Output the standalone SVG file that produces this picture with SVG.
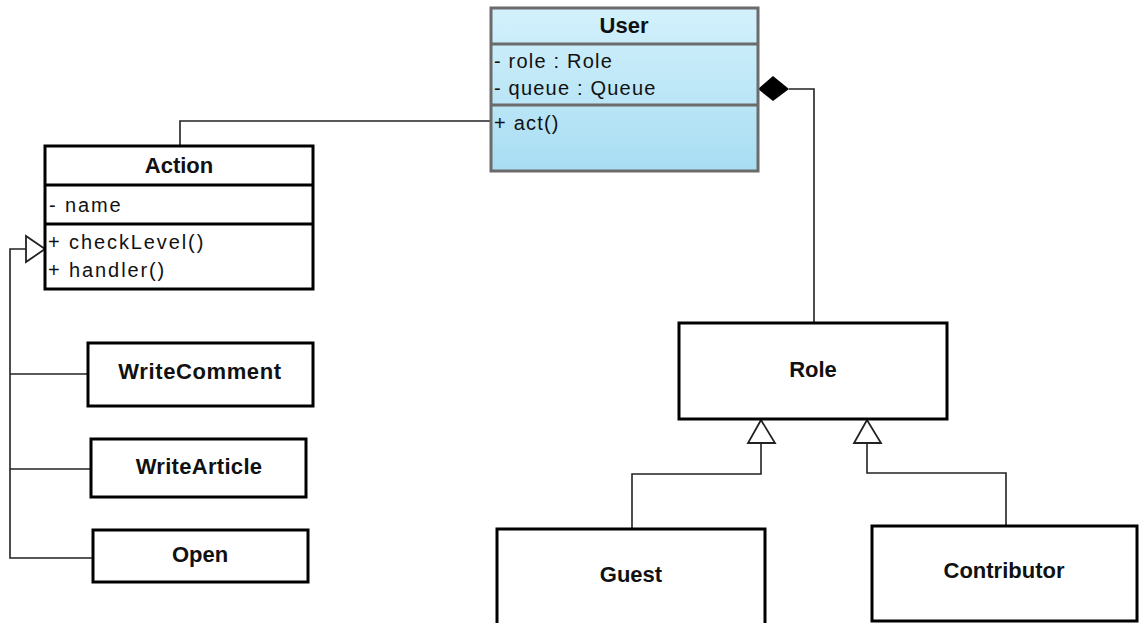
<svg xmlns="http://www.w3.org/2000/svg" width="1139" height="623" viewBox="0 0 1139 623">
  <defs>
    <linearGradient id="userFill" x1="0" y1="0" x2="0" y2="1">
      <stop offset="0" stop-color="#d3f1fc"/>
      <stop offset="1" stop-color="#a8ddf2"/>
    </linearGradient>
    <style>
      .box { fill: #ffffff; stroke: #000000; stroke-width: 3; }
      .ubox { fill: url(#userFill); stroke: #6b6b6b; stroke-width: 3; }
      .usep { stroke: #6b6b6b; stroke-width: 3; }
      .sep { stroke: #000000; stroke-width: 3; }
      .title { font-family: "Liberation Sans", Arial, sans-serif; font-weight: bold; font-size: 22px; fill: #111; text-anchor: middle; }
      .member { font-family: "Liberation Sans", Arial, sans-serif; font-size: 20px; fill: #111; letter-spacing: 1.2px; }
      .amember { font-family: "Liberation Sans", Arial, sans-serif; font-size: 20px; fill: #111; letter-spacing: 1.9px; }
      .wire { fill: none; stroke: #222; stroke-width: 1.6; }
      .hollow { fill: #ffffff; stroke: #222; stroke-width: 1.8; stroke-linejoin: miter; }
    </style>
  </defs>

  <rect width="1139" height="623" fill="#ffffff"/>

  <!-- connectors -->
  <g id="connectors">
    <!-- User to Action association -->
    <polyline class="wire" points="491,121 180,121 180,146"/>
    <!-- User composition to Role -->
    <polyline class="wire" points="789,89 814,89 814,323"/>
    <polygon points="758,89 773,76 789,89 773,101" fill="#000"/>
    <!-- Action generalization tree -->
    <polyline class="wire" points="26,249 10,249 10,558 93,558"/>
    <line class="wire" x1="10" y1="374" x2="88" y2="374"/>
    <line class="wire" x1="10" y1="469" x2="91" y2="469"/>
    <polygon class="hollow" points="45,249 26,236 26,262"/>
    <!-- Role generalizations -->
    <polyline class="wire" points="761,443 761,474 632,474 632,529"/>
    <polygon class="hollow" points="761,420 748,443 775,443"/>
    <polyline class="wire" points="867,443 867,473 1006,473 1006,526"/>
    <polygon class="hollow" points="867,420 854,443 881,443"/>
  </g>

  <g id="user">
    <rect class="ubox" x="491" y="8" width="267" height="163"/>
    <line class="usep" x1="491" y1="44" x2="758" y2="44"/>
    <line class="usep" x1="491" y1="105" x2="758" y2="105"/>
    <text class="title" x="624" y="33">User</text>
    <text class="member" x="494" y="68">- role : Role</text>
    <text class="member" x="494" y="95">- queue : Queue</text>
    <text class="member" x="494" y="130">+ act()</text>
  </g>

  <g id="action">
    <rect class="box" x="45" y="146" width="268" height="143"/>
    <line class="sep" x1="45" y1="185" x2="313" y2="185"/>
    <line class="sep" x1="45" y1="224" x2="313" y2="224"/>
    <text class="title" x="179" y="173">Action</text>
    <text class="amember" x="49" y="212">- name</text>
    <text class="amember" x="48" y="249">+ checkLevel()</text>
    <text class="amember" x="48" y="277">+ handler()</text>
  </g>

  <g id="writecomment">
    <rect class="box" x="88" y="343" width="225" height="63"/>
    <text class="title" x="200" y="379" letter-spacing="0.6">WriteComment</text>
  </g>

  <g id="writearticle">
    <rect class="box" x="91" y="439" width="215" height="58"/>
    <text class="title" x="199" y="474" letter-spacing="0.3">WriteArticle</text>
  </g>

  <g id="open">
    <rect class="box" x="93" y="530" width="215" height="52"/>
    <text class="title" x="200" y="562">Open</text>
  </g>

  <g id="role">
    <rect class="box" x="679" y="323" width="268" height="96"/>
    <text class="title" x="813" y="377">Role</text>
  </g>

  <g id="guest">
    <rect class="box" x="497" y="529" width="268" height="100"/>
    <text class="title" x="631" y="582">Guest</text>
  </g>

  <g id="contributor">
    <rect class="box" x="872" y="526" width="265" height="95"/>
    <text class="title" x="1004" y="578">Contributor</text>
  </g>
</svg>
